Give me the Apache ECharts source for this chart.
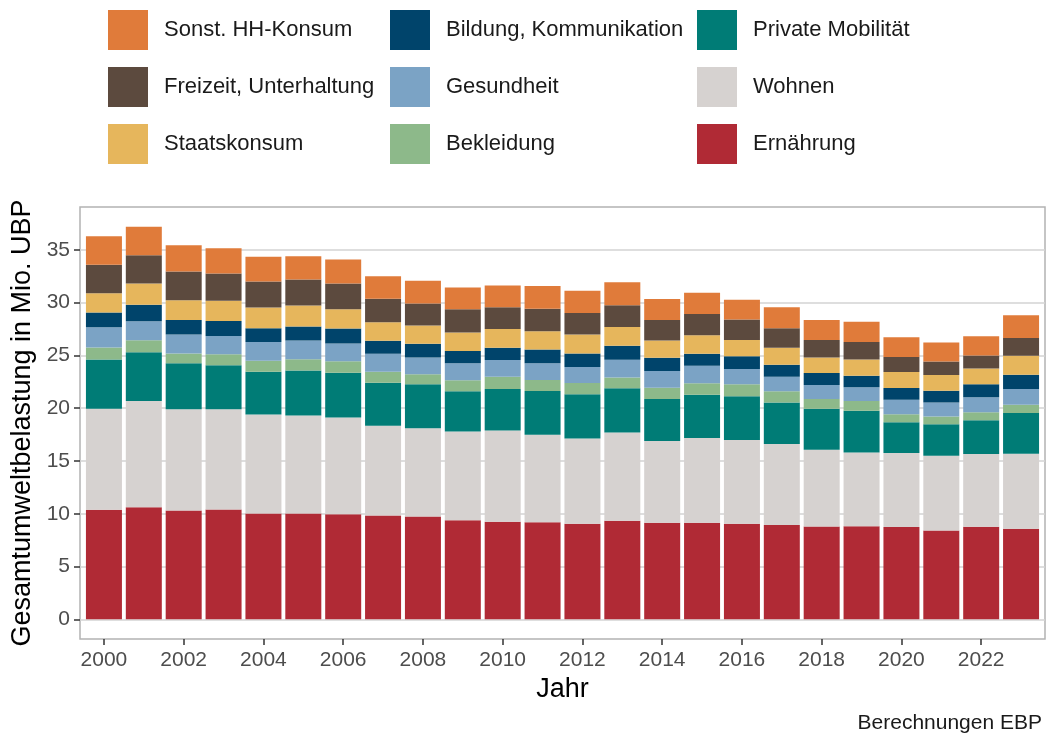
<!DOCTYPE html>
<html>
<head>
<meta charset="utf-8">
<title>Gesamtumweltbelastung</title>
<script src="https://cdn.jsdelivr.net/npm/echarts@6/dist/echarts.min.js"></script>
<style>
  html, body { margin: 0; padding: 0; background: #fff; }
  .chart { width: 1048px; height: 738px; }
</style>
</head>
<body>
<div class="chart"></div>
<script>
// Jahre und Werte (Mio. UBP)
var jahre = ['2000', '2001', '2002', '2003', '2004', '2005', '2006', '2007', '2008', '2009', '2010', '2011',
             '2012', '2013', '2014', '2015', '2016', '2017', '2018', '2019', '2020', '2021', '2022', '2023'];
var yTicks = [0, 5, 10, 15, 20, 25, 30, 35];

var ernaehrung = [10.38, 10.62, 10.31, 10.40, 10.03, 10.03, 9.96, 9.84, 9.75, 9.40, 9.25, 9.21,
                  9.06, 9.34, 9.15, 9.15, 9.06, 8.93, 8.80, 8.83, 8.74, 8.42, 8.77, 8.58];
var wohnen = [9.58, 10.07, 9.59, 9.50, 9.37, 9.27, 9.15, 8.49, 8.36, 8.39, 8.64, 8.27,
              8.07, 8.36, 7.74, 8.02, 7.92, 7.67, 7.27, 6.98, 7.01, 7.08, 6.89, 7.11];
var mobilitaet = [4.66, 4.62, 4.37, 4.18, 4.05, 4.28, 4.25, 4.09, 4.15, 3.81, 3.93, 4.15,
                  4.19, 4.19, 3.99, 4.11, 4.15, 3.93, 3.89, 3.95, 2.91, 2.99, 3.20, 3.86];
var bekleidung = [1.13, 1.13, 0.92, 1.04, 1.04, 1.07, 1.10, 1.03, 0.95, 1.04, 1.16, 1.04,
                  1.07, 1.03, 1.06, 1.08, 1.13, 1.07, 0.92, 0.93, 0.77, 0.72, 0.77, 0.79];
var gesundheit = [1.92, 1.80, 1.79, 1.73, 1.79, 1.76, 1.67, 1.70, 1.60, 1.61, 1.58, 1.60,
                  1.51, 1.66, 1.58, 1.66, 1.45, 1.38, 1.32, 1.29, 1.38, 1.34, 1.41, 1.48];
var bildung = [1.39, 1.57, 1.38, 1.42, 1.30, 1.32, 1.42, 1.23, 1.29, 1.16, 1.16, 1.30,
               1.29, 1.33, 1.25, 1.13, 1.22, 1.13, 1.13, 1.10, 1.11, 1.11, 1.22, 1.35];
var staatskonsum = [1.84, 2.01, 1.86, 1.92, 1.95, 1.99, 1.82, 1.76, 1.73, 1.76, 1.79, 1.72,
                    1.79, 1.79, 1.65, 1.77, 1.54, 1.61, 1.48, 1.54, 1.50, 1.48, 1.51, 1.79];
var freizeit = [2.70, 2.67, 2.73, 2.57, 2.47, 2.48, 2.45, 2.24, 2.10, 2.20, 2.05, 2.14,
                2.04, 2.05, 1.94, 2.01, 1.93, 1.86, 1.66, 1.66, 1.42, 1.29, 1.23, 1.70];
var sonstHH = [2.68, 2.71, 2.48, 2.39, 2.34, 2.20, 2.26, 2.13, 2.14, 2.07, 2.07, 2.14,
               2.11, 2.19, 1.98, 2.01, 1.88, 1.98, 1.89, 1.92, 1.89, 1.80, 1.82, 2.14];

(function(){
    var myChart = echarts.init(document.querySelector('.chart'));
    var font = '"Liberation Sans", Arial, sans-serif';
    var yMin = -1.86, yMax = 39.06;

    // Reihenfolge von unten nach oben
    var reihen = [
        {name: 'Ernährung', werte: ernaehrung, color: '#b02a35'},
        {name: 'Wohnen', werte: wohnen, color: '#d6d2d0'},
        {name: 'Private Mobilität', werte: mobilitaet, color: '#007c76'},
        {name: 'Bekleidung', werte: bekleidung, color: '#8db98a'},
        {name: 'Gesundheit', werte: gesundheit, color: '#7ba3c5'},
        {name: 'Bildung, Kommunikation', werte: bildung, color: '#00446b'},
        {name: 'Staatskonsum', werte: staatskonsum, color: '#e6b65c'},
        {name: 'Freizeit, Unterhaltung', werte: freizeit, color: '#5c4a3e'},
        {name: 'Sonst. HH-Konsum', werte: sonstHH, color: '#e07b3a'}
    ];

    var series = reihen.map(function(r){
        return {
            name: r.name,
            type: 'bar',
            stack: 'total',
            barWidth: 36,
            xAxisIndex: 0,
            yAxisIndex: 0,
            itemStyle: {color: r.color},
            data: r.werte
        };
    });

    function legende(left, names){
        return {
            orient: 'vertical',
            left: left,
            top: 10,
            padding: 0,
            itemWidth: 40,
            itemHeight: 40,
            itemGap: 17,
            icon: 'rect',
            selectedMode: false,
            textStyle: {fontSize: 22, color: '#1a1a1a', fontFamily: font, padding: [0, 0, 0, 11]},
            data: names
        };
    }

    var option = {
        backgroundColor: '#fff',
        animation: false,
        legend: [
            legende(108, ['Sonst. HH-Konsum', 'Freizeit, Unterhaltung', 'Staatskonsum']),
            legende(390, ['Bildung, Kommunikation', 'Gesundheit', 'Bekleidung']),
            legende(697, ['Private Mobilität', 'Wohnen', 'Ernährung'])
        ],
        // grid 0: Balken (Kategorien), grid 1: Panel mit Rahmen und y-Achse
        grid: [
            {left: 84, right: 7, top: 207, bottom: 99},
            {left: 80, right: 3, top: 207, bottom: 99, show: true,
             borderColor: '#b3b3b3', borderWidth: 1.5, backgroundColor: 'transparent'}
        ],
        xAxis: [{
            type: 'category',
            gridIndex: 0,
            data: jahre,
            boundaryGap: true,
            name: 'Jahr',
            nameLocation: 'middle',
            nameGap: 37,
            nameTextStyle: {fontSize: 27, color: '#000', fontFamily: font},
            axisLine: {show: false, onZero: false},
            axisTick: {show: true, length: 6, interval: 1, alignWithLabel: true,
                       lineStyle: {color: '#333', width: 1.5}},
            axisLabel: {interval: 1, fontSize: 21, color: '#4d4d4d', fontFamily: font, margin: 11},
            splitLine: {show: false}
        }, {
            type: 'value',
            gridIndex: 1,
            show: false
        }],
        yAxis: [{
            type: 'value',
            gridIndex: 0,
            min: yMin,
            max: yMax,
            show: false
        }, {
            type: 'value',
            gridIndex: 1,
            min: yMin,
            max: yMax,
            name: 'Gesamtumweltbelastung in Mio. UBP',
            nameLocation: 'middle',
            nameGap: 44,
            nameTextStyle: {fontSize: 27, color: '#000', fontFamily: font},
            axisLine: {show: false, onZero: false},
            axisTick: {show: true, length: 6, customValues: yTicks,
                       lineStyle: {color: '#333', width: 1.5}},
            axisLabel: {customValues: yTicks, fontSize: 21, color: '#4d4d4d',
                        fontFamily: font, margin: 10},
            splitLine: {show: true, lineStyle: {color: '#d3d3d3', width: 1.5}}
        }],
        graphic: [{
            type: 'text',
            right: 6,
            bottom: 4,
            style: {text: 'Berechnungen EBP', fontSize: 21, fill: '#1a1a1a', fontFamily: font}
        }],
        series: series
    };

    myChart.setOption(option);
    window.addEventListener('resize', function(){
        myChart.resize();
    });
})();
</script>
</body>
</html>
